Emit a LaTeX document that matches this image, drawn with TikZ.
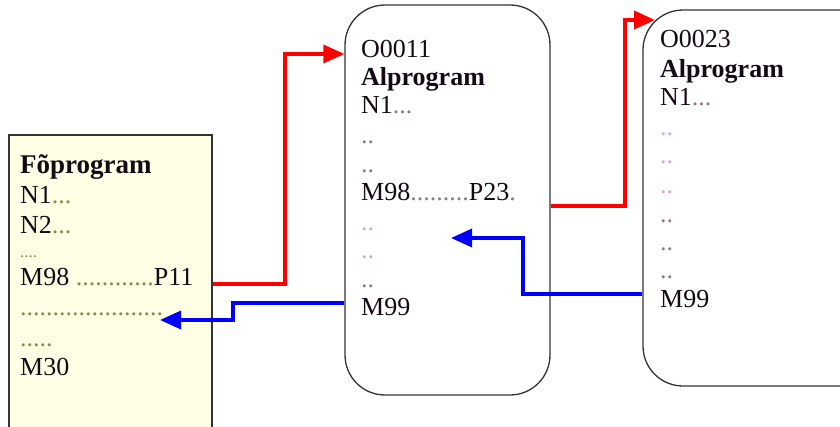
\documentclass[tikz,border=0pt]{standalone}
\usepackage{fontspec}
\setmainfont{Liberation Serif}
\usetikzlibrary{arrows.meta}
\definecolor{boxyellow}{HTML}{FFFFE6}
\definecolor{redline}{HTML}{FF0000}
\definecolor{blueline}{HTML}{0000FF}
\definecolor{dotgray}{HTML}{8E7A8E}
\definecolor{dotpink}{HTML}{CFA6D6}
\definecolor{dotolive}{HTML}{8A8A50}
\definecolor{inktext}{HTML}{140A14}
\begin{document}
\begin{tikzpicture}[x=1pt,y=-1pt,
  txt/.style={anchor=base west, inner sep=0pt, text=inktext, font=\fontsize{26}{30}\selectfont},
  boldtxt/.style={txt, font=\fontsize{27}{30}\selectfont\bfseries},
  progbox/.style={draw=black!80, line width=1.3pt, inner sep=0pt},
  callline/.style={draw=redline, line width=3.5pt, -{Triangle[length=21pt,width=18pt]}},
  retline/.style={draw=blueline, line width=3.5pt, -{Triangle[length=21pt,width=18pt]}},
]
\useasboundingbox (0,0) rectangle (840,426);
\clip (0,0) rectangle (840,426);

% boxes
\node[progbox, fill=boxyellow, minimum width=203pt, minimum height=320pt] (lbox) at (110.5,295) {};
\node[progbox, fill=white, rounded corners=40pt, minimum width=205pt, minimum height=390pt] (mbox) at (447.5,200) {};
\node[progbox, fill=white, rounded corners=40pt, minimum width=237pt, minimum height=376pt] (rbox) at (761.5,198) {};

% main program text
\node[boldtxt] (l1) at (20,173) {Fõprogram};
\node[txt] (l2) at (20,203) {N1\textcolor{dotolive}{...}};
\node[txt] (l3) at (20,233) {N2\textcolor{dotolive}{...}};
\node[txt, text=dotolive, font=\fontsize{17}{20}\selectfont] (l4) at (20,257) {....};
\node[txt] (l5) at (20,285) {M98 \textcolor{dotolive}{............}P11};
\node[txt, text=dotolive] (l6) at (20,315) {......................};
\node[txt, text=dotolive] (l7) at (20,346) {.....};
\node[txt] (l8) at (20,375) {M30};

% subprogram O0011
\node[txt] (m1) at (361,57) {O0011};
\node[boldtxt, font=\fontsize{26}{30}\selectfont\bfseries] (m2) at (361,85) {Alprogram};
\node[txt] (m3) at (361,113) {N1\textcolor{dotgray}{...}};
\node[txt, text=dotgray] (m4) at (361,143) {..};
\node[txt, text=dotgray] (m5) at (361,172) {..};
\node[txt] (m6) at (361,200) {M98\textcolor{dotgray}{.........}P23\textcolor{dotgray}{.}};
\node[txt, text=dotpink] (m7) at (361,230) {..};
\node[txt, text=dotpink] (m8) at (361,258) {..};
\node[txt, text=dotgray] (m9) at (361,287) {..};
\node[txt] (m10) at (361,315) {M99};

% subprogram O0023
\node[txt] (r1) at (660,47) {O0023};
\node[boldtxt, font=\fontsize{26}{30}\selectfont\bfseries] (r2) at (660,77) {Alprogram};
\node[txt] (r3) at (660,105) {N1\textcolor{dotgray}{...}};
\node[txt, text=dotpink] (r4) at (660,135) {..};
\node[txt, text=dotpink] (r5) at (660,163) {..};
\node[txt, text=dotpink] (r6) at (660,193) {..};
\node[txt, text=dotgray] (r7) at (660,222) {..};
\node[txt, text=dotgray] (r8) at (660,250) {..};
\node[txt, text=dotgray] (r9) at (660,278) {..};
\node[txt] (r10) at (660,307) {M99};

% free ends of return arrows
\coordinate (ret1end) at (160,320);
\coordinate (ret2end) at (451,238);
\coordinate (call2end) at (655,20);

% connectors
\draw[callline] (lbox.east |- 0,284) -- (285,284) -- (285,54) -- (mbox.west |- 0,54);
\draw[retline] (mbox.west |- 0,303) -- (233,303) -- (233,320) -- (ret1end);
\draw[callline] (mbox.east |- 0,206) -- (625,206) -- (625,20) -- (call2end);
\draw[retline] (rbox.west |- 0,294) -- (523,294) -- (523,238) -- (ret2end);
\end{tikzpicture}
\end{document}
